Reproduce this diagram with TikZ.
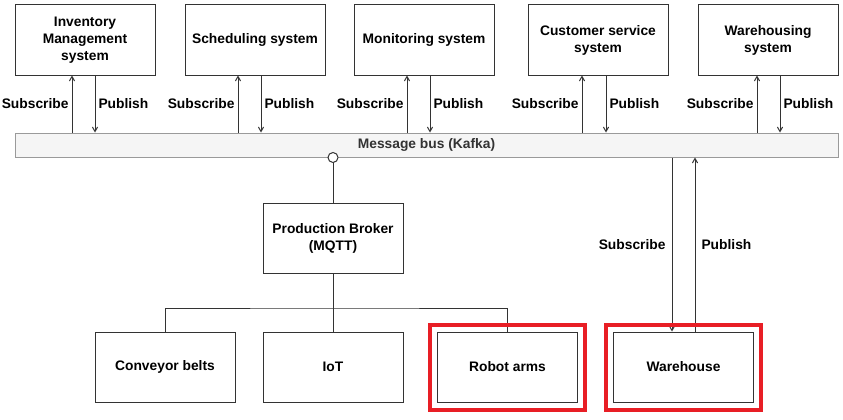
\documentclass[tikz,border=0pt]{standalone}
\usepackage{fontspec}
\setmainfont{Liberation Sans}
\usepackage{tikz}
\usetikzlibrary{arrows}
\usetikzlibrary{positioning}
\usetikzlibrary{calc}
\usetikzlibrary{fit}
\definecolor{linegray}{HTML}{333333}
\definecolor{busfill}{HTML}{F5F5F5}
\definecolor{busline}{HTML}{9A9A9A}
\definecolor{markred}{HTML}{E81E25}
\tikzset{
  sysbox/.style={draw=linegray, line width=1pt, fill=white, minimum width=140pt,
                 minimum height=70pt, align=center, inner sep=2pt,
                 font=\bfseries\fontsize{13.8}{17}\selectfont},
  lbl/.style={font=\bfseries\fontsize{13.8}{17}\selectfont, inner sep=3pt},
  redframe/.style={draw=markred, line width=4pt, inner sep=7pt}
}

\begin{document}
\begin{tikzpicture}[x=1pt, y=-1pt, line width=1pt, >=angle 60, draw=linegray]
	\useasboundingbox (0,0) rectangle (843,420);

	% systems on the bus
	\node[sysbox] (inv) at (85,40) {Inventory\\Management\\system};
	\node[sysbox] (sched) at (255,40) {Scheduling system};
	\node[sysbox] (mon) at (424,40) {Monitoring system};
	\node[sysbox] (cust) at (598,40) {Customer service\\system};
	\node[sysbox] (whsys) at (768,40) {Warehousing\\system};

	\node[draw=busline, fill=busfill, minimum width=823pt, minimum height=24pt,
	      text=linegray, font=\bfseries\fontsize{13.8}{17}\selectfont] (bus) at (426.5,145) {Message bus (Kafka)};

	\foreach \sys/\sub/\pub in {inv/-13/10, sched/-17/6, mon/-17/6, cust/-16/8, whsys/-11/12} {
		\coordinate (\sys-sub) at ($(\sys.south)+(\sub,0)$);
		\coordinate (\sys-pub) at ($(\sys.south)+(\pub,0)$);
		\draw[->] (\sys-sub |- bus.north) -- (\sys-sub) node[midway, lbl, left] {Subscribe};
		\draw[->] (\sys-pub) -- (\sys-pub |- bus.north) node[midway, lbl, right] {Publish};
	}

	% production side
	\node[sysbox] (broker) at (333,238) {Production Broker\\(MQTT)};
	\draw (broker.north) -- (broker.north |- bus.south)
		node[circle, draw=linegray, fill=white, inner sep=0pt, minimum size=10pt] (tap) {};

	\node[sysbox] (conv) at (165,367) {Conveyor belts};
	\node[sysbox] (iot) at (333,367) {IoT};
	\node[sysbox] (robot) at (507.5,367) {Robot arms};
	\node[sysbox] (wh) at (683.5,367) {Warehouse};

	\coordinate (split) at (333,308);
	\draw (broker.south) -- (iot.north);
	\draw (conv.north) |- (split) -| (robot.north);

	% warehouse talks to the bus directly
	\coordinate (whsub) at ($(wh.north)+(-11.5,0)$);
	\coordinate (whpub) at ($(wh.north)+(11.5,0)$);
	\draw[->] (whsub |- bus.south) -- (whsub) node[midway, lbl, left, inner sep=6pt] {Subscribe};
	\draw[->] (whpub) -- (whpub |- bus.south) node[midway, lbl, right, inner sep=6pt] {Publish};

	\node[redframe, fit=(robot)] (robotmark) {};
	\node[redframe, fit=(wh)] (whmark) {};
\end{tikzpicture}
\end{document}
